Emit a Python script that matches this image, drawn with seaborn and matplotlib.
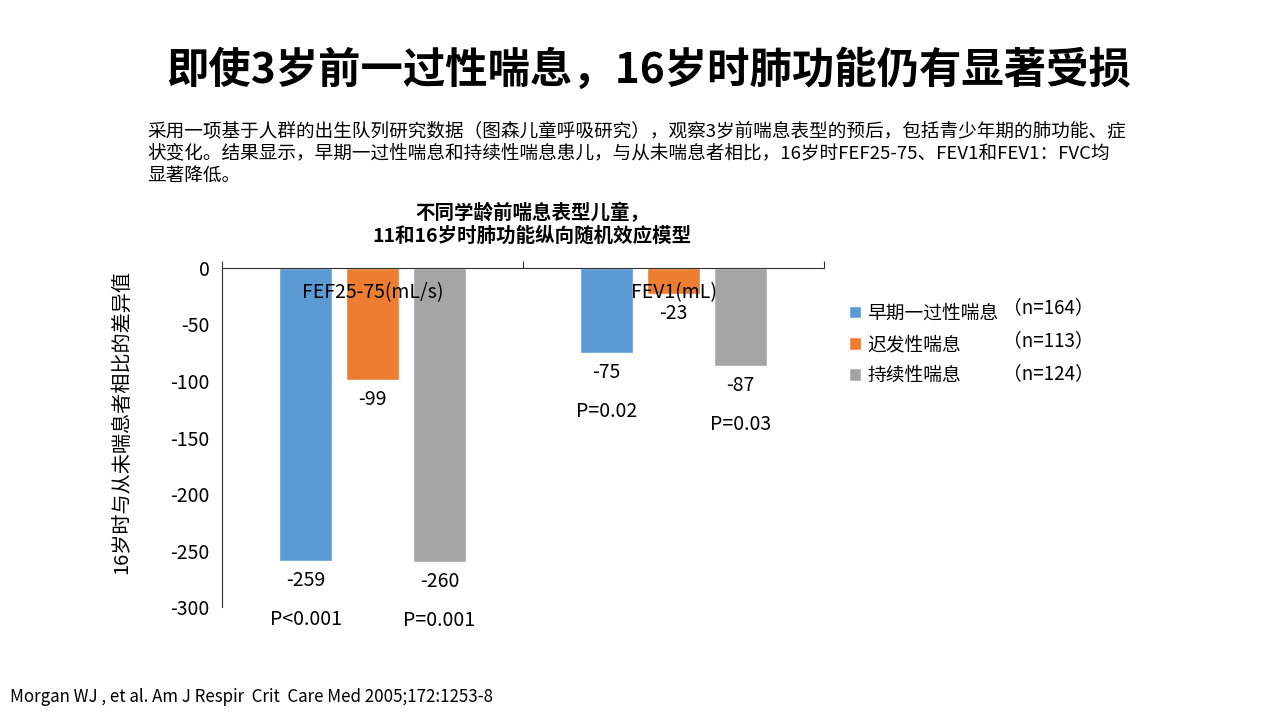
import pandas as pd
import matplotlib
matplotlib.use("Agg")
import matplotlib.pyplot as plt
import seaborn as sns

# ------------------------------------------------------------
# Data
categories = ["FEF25-75(mL/s)", "FEV1(mL)"]
groups = ["早期一过性喘息", "迟发性喘息", "持续性喘息"]
group_n = ["（n=164）", "（n=113）", "（n=124）"]
fef_values = [-259, -99, -260]
fev_values = [-75, -23, -87]
fef_pvals = ["P<0.001", "", "P=0.001"]
fev_pvals = ["P=0.02", "", "P=0.03"]
colors = ["#5B9BD5", "#ED7D31", "#A5A5A5"]
yticks = [0, -50, -100, -150, -200, -250, -300]

title = "即使3岁前一过性喘息，16岁时肺功能仍有显著受损"
intro = ("采用一项基于人群的出生队列研究数据（图森儿童呼吸研究），观察3岁前喘息表型的预后，包括青少年期的肺功能、症\n"
         "状变化。结果显示，早期一过性喘息和持续性喘息患儿，与从未喘息者相比，16岁时FEF25-75、FEV1和FEV1：FVC均\n"
         "显著降低。")
chart_title = "不同学龄前喘息表型儿童，\n11和16岁时肺功能纵向随机效应模型"
ylabel = "16岁时与从未喘息者相比的差异值"
source = "Morgan WJ , et al. Am J Respir  Crit  Care Med 2005;172:1253-8"

# ------------------------------------------------------------
# Build the table
rows = []
for g, a, b in zip(groups, fef_values, fev_values):
    rows.append({"cat": categories[0], "group": g, "value": a})
    rows.append({"cat": categories[1], "group": g, "value": b})
data = pd.DataFrame(rows)

sns.set_style("white")
plt.rcParams['font.family'] = ['Noto Sans CJK SC', 'DejaVu Sans']
plt.rcParams['text.color'] = 'black'
plt.rcParams['axes.labelcolor'] = 'black'
plt.rcParams['xtick.color'] = 'black'
plt.rcParams['ytick.color'] = 'black'

fig = plt.figure(figsize=(12.8, 7.2), dpi=100)
ax = fig.add_axes([0.1734, 0.1569, 0.4704, 0.4709])

sns.barplot(data=data, x="cat", y="value", hue="group", order=categories,
            hue_order=groups, palette=colors, width=0.666, gap=0.21,
            saturation=1, ax=ax, legend=True)

ax.set_ylim(-300, 0)
ax.set_xlim(-0.5, 1.5)
ax.set_yticks(yticks)
ax.set_yticklabels([str(t) for t in yticks], fontsize=14)
ax.set_xticks([-0.5, 0.5, 1.5])
ax.set_xticklabels([])
ax.xaxis.set_ticks_position("top")
ax.tick_params(axis="x", direction="out", length=5, width=0.8, color="#303030")
ax.tick_params(axis="y", direction="out", length=5, width=0.8, color="#303030", pad=4)
ax.set_xlabel("")
ax.set_ylabel(ylabel, fontsize=14.5)
ax.yaxis.set_label_coords(-0.15, 0.545)

for side in ["bottom", "right"]:
    ax.spines[side].set_visible(False)
for side in ["top", "left"]:
    ax.spines[side].set_color("#303030")
    ax.spines[side].set_linewidth(0.8)

# category labels inside the plot
for i, c in enumerate(categories):
    ax.text(i, -22, c, ha="center", va="center", fontsize=14)

# value and p labels
pvals = [fef_pvals, fev_pvals]
for k, cont in enumerate(ax.containers):
    for i, bar in enumerate(cont):
        xc = bar.get_x() + bar.get_width() / 2
        h = bar.get_height()
        ax.annotate(str(int(h)), (xc, h), xytext=(0, -14), textcoords="offset points",
                    ha="center", va="center", fontsize=14, annotation_clip=False)
        p = pvals[i][k]
        if p:
            ax.annotate(p, (xc, h), xytext=(0, -42), textcoords="offset points",
                        ha="center", va="center", fontsize=14, annotation_clip=False)

# legend
handles, labels = ax.get_legend_handles_labels()
ax.legend(handles, labels, loc="upper left", bbox_to_anchor=(0.65, 0.603),
          bbox_transform=fig.transFigure, frameon=False, fontsize=13.5,
          handlelength=0.65, handleheight=0.65, handletextpad=0.35, labelspacing=0.55)
for j, n in enumerate(group_n):
    fig.text(1003 / 1280, 1 - (308 + j * 33) / 720, n, fontsize=13.5, va="center")

# texts
fig.text(0.507, 1 - 71 / 720, title, ha="center", va="center", fontsize=30.5, fontweight="bold")
fig.text(147 / 1280, 1 - 122 / 720, intro, ha="left", va="top", fontsize=13.4, linespacing=1.32)
fig.text(532 / 1280, 1 - 224 / 720, chart_title, ha="center", va="center", fontsize=14,
         fontweight="bold", linespacing=1.2)
fig.text(10 / 1280, 1 - 697 / 720, source, ha="left", va="center", fontsize=12.2)

fig.savefig("out.png", dpi=100)
